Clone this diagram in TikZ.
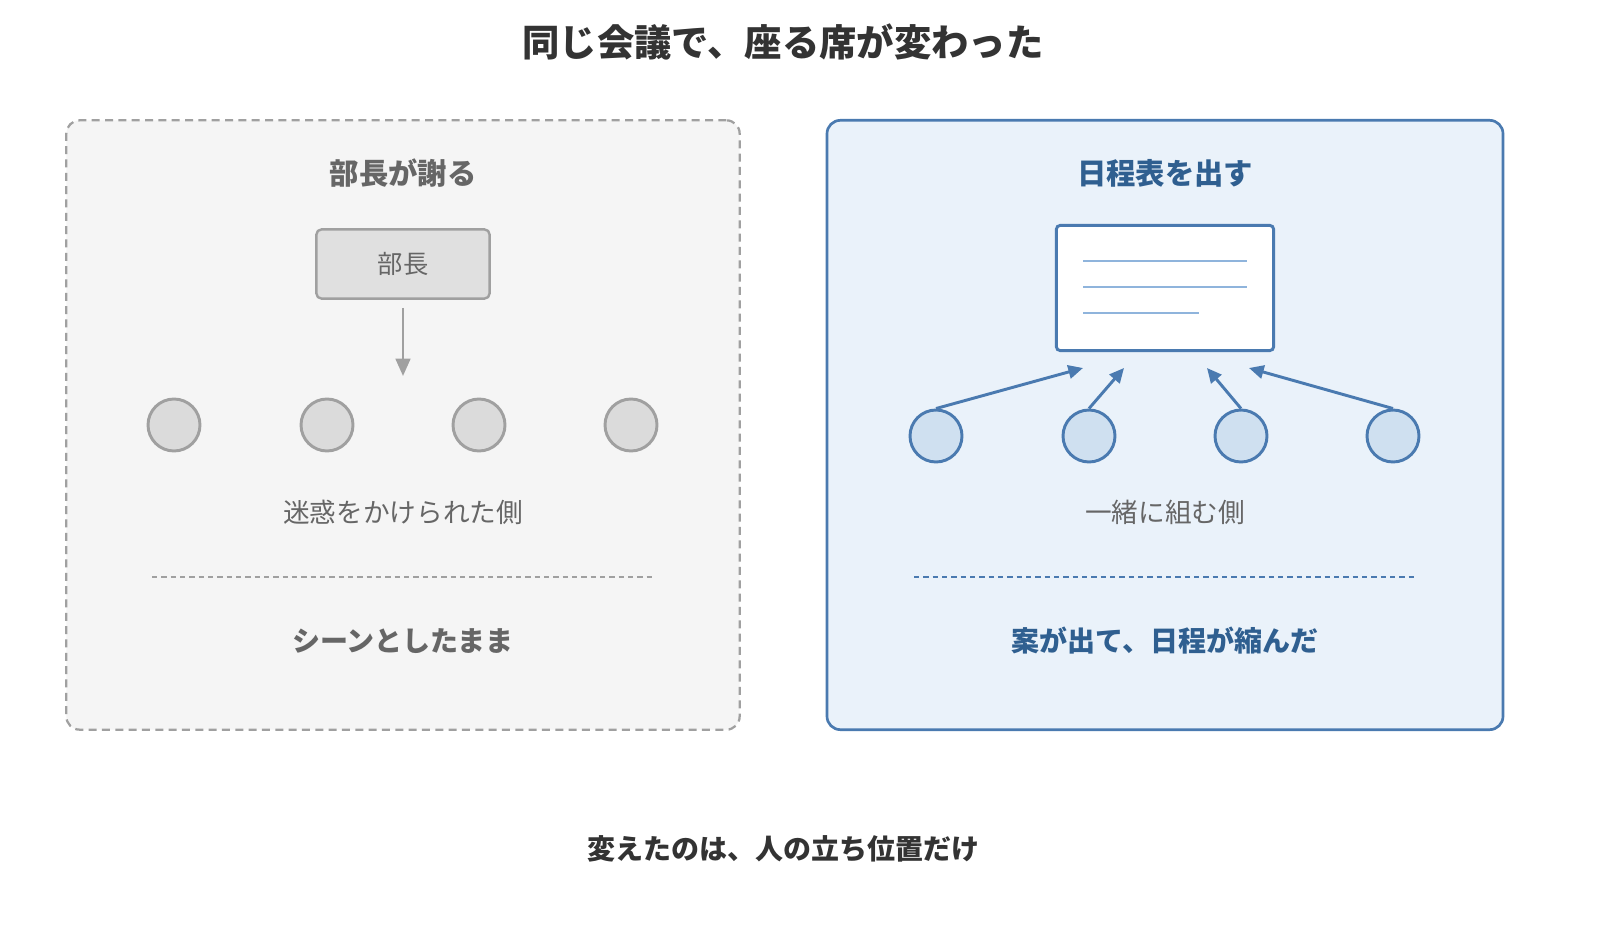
\documentclass[tikz,border=0pt]{standalone}
\usepackage{fontspec}
\setmainfont{Noto Sans CJK JP}
\usetikzlibrary{arrows.meta}
\definecolor{dk}{HTML}{333333}
\definecolor{gtxt}{HTML}{666666}
\definecolor{gline}{HTML}{A0A0A0}
\definecolor{bl}{HTML}{4A7AB0}
\definecolor{bltxt}{HTML}{2F5F90}
\definecolor{bfill}{HTML}{EAF2FA}
\definecolor{cfill}{HTML}{CFE0F0}
\definecolor{lline}{HTML}{8FB4DC}
\tikzset{
 px/.style={font=\fontsize{#1}{#1}\selectfont},
 bpx/.style={font=\fontsize{#1}{#1}\selectfont\bfseries},
 gc/.style={circle,draw=gline,line width=2.2pt,fill=black!14,minimum size=39pt,inner sep=0},
 bc/.style={circle,draw=bl,line width=2.2pt,fill=cfill,minimum size=39pt,inner sep=0},
 barr/.style={draw=bl,line width=2.2pt,-{Triangle[length=11pt,width=10pt]}},
}
\begin{document}
\begin{tikzpicture}[x=0.75pt,y=-0.75pt]
\useasboundingbox (0,0) rectangle (1600,934);
\node[bpx=28pt,text=dk] (title) at (783,42) {同じ会議で、座る席が変わった};
% left panel
\node[draw=gline,line width=1.7pt,dash pattern=on 6pt off 4pt,fill=black!4,rounded corners=10pt,minimum width=505pt,minimum height=457pt,inner sep=0] (lp) at (403,425) {};
\node[bpx=22pt,text=gtxt] (lt) at (403,173) {部長が謝る};
\node[draw=gline,line width=1.8pt,fill=black!12,rounded corners=4pt,minimum width=130pt,minimum height=52pt,text=gtxt,px=19pt] (bu) at (403,264) {部長};
\coordinate (ae) at (403,376);
\draw[draw=gline,line width=2pt,-{Triangle[length=13pt,width=11pt]}] (403,308) -- (ae);
\node[gc] (g1) at (174,425) {};
\node[gc] (g2) at (327,425) {};
\node[gc] (g3) at (479,425) {};
\node[gc] (g4) at (631,425) {};
\node[px=20pt,text=gtxt] (lsub) at (403,512) {迷惑をかけられた側};
\draw[gline,line width=1.3pt,dash pattern=on 4pt off 3pt] (152,577) coordinate (ld1) -- (655,577) coordinate (ld2);
\node[bpx=21pt,text=gtxt] (lres) at (403,641) {シーンとしたまま};
% right panel
\node[draw=bl,line width=2pt,fill=bfill,rounded corners=10pt,minimum width=507pt,minimum height=457pt,inner sep=0] (rp) at (1165,425) {};
\node[bpx=22pt,text=bltxt] (rt) at (1165,173) {日程表を出す};
\node[draw=bl,line width=2.2pt,fill=white,rounded corners=3pt,minimum width=163pt,minimum height=94pt,inner sep=0] (doc) at (1165,288) {};
\draw[lline,line width=2.2pt] (1083,261) -- (1247,261);
\draw[lline,line width=2.2pt] (1083,287) -- (1247,287);
\draw[lline,line width=2.2pt] (1083,313) -- (1199,313);
\node[bc] (b1) at (936,436) {};
\node[bc] (b2) at (1089,436) {};
\node[bc] (b3) at (1241,436) {};
\node[bc] (b4) at (1393,436) {};
\coordinate (t1) at (1083,368);
\coordinate (t2) at (1124,368);
\coordinate (t3) at (1207,368);
\coordinate (t4) at (1249,368);
\draw[barr] (b1.north) -- (t1);
\draw[barr] (b2.north) -- (t2);
\draw[barr] (b3.north) -- (t3);
\draw[barr] (b4.north) -- (t4);
\node[px=20pt,text=gtxt] (rsub) at (1165,512) {一緒に組む側};
\draw[bl,line width=1.3pt,dash pattern=on 4pt off 3pt] (914,577) coordinate (rd1) -- (1416,577) coordinate (rd2);
\node[bpx=21pt,text=bltxt] (rres) at (1165,641) {案が出て、日程が縮んだ};
\node[bpx=21pt,text=dk] (foot) at (783,849) {変えたのは、人の立ち位置だけ};
\end{tikzpicture}
\end{document}
